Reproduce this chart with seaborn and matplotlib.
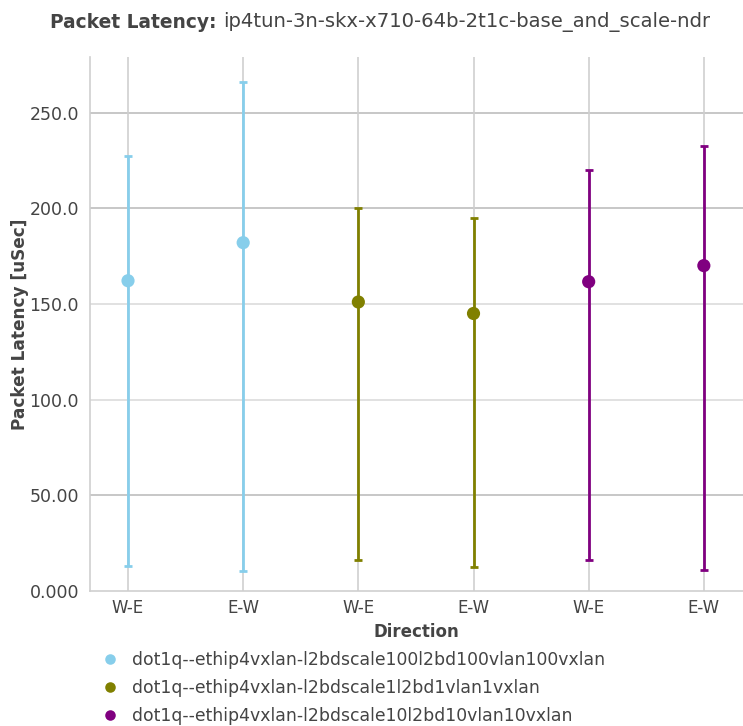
import numpy as np
import pandas as pd
import matplotlib
matplotlib.use("Agg")
import matplotlib.pyplot as plt
import seaborn as sns
from matplotlib.ticker import FuncFormatter

# Datos
tests = [
    "dot1q--ethip4vxlan-l2bdscale100l2bd100vlan100vxlan",
    "dot1q--ethip4vxlan-l2bdscale1l2bd1vlan1vxlan",
    "dot1q--ethip4vxlan-l2bdscale10l2bd10vlan10vxlan",
]
directions = ["W-E", "E-W", "W-E", "E-W", "W-E", "E-W"]
test_of_point = [0, 0, 1, 1, 2, 2]
lat_avg = [162.1, 182.0, 151.0, 145.0, 161.6, 170.0]
lat_max = [227.5, 265.7, 200.3, 195.1, 219.7, 232.7]
lat_min = [13.1, 10.5, 16.2, 12.6, 16.2, 11.0]
colors = ["#87CEEB", "#808000", "#800080"]

df = pd.DataFrame({
    "pos": np.arange(len(directions)),
    "Direction": directions,
    "test": [tests[i] for i in test_of_point],
    "avg": lat_avg,
    "max": lat_max,
    "min": lat_min,
})

sns.set_style("white")
plt.rcParams["font.family"] = ["DejaVu Sans"]
txt = "#444444"


def fmt_y(v, p):
    # 4 cifras significativas, como plotly
    if v >= 100:
        return f"{v:.1f}"
    if v >= 10:
        return f"{v:.2f}"
    return f"{v:.3f}"


fig = plt.figure(figsize=(7.43, 7.26), dpi=100)
ax = fig.add_axes([90 / 743, 1 - 591 / 726, 653 / 743, 534 / 726])

# lineas de grilla
for y in [50, 100, 150, 200, 250]:
    ax.axhline(y, color="#bdbdbd" if y in (50, 200, 250) else "#dcdcdc", lw=1.2, zorder=0)
for x in df["pos"]:
    ax.axvline(x, color="#cfcfcf", lw=1.2, zorder=0)

# barras de error (min / max)
for i, t in enumerate(tests):
    sub = df[df["test"] == t]
    ax.errorbar(sub["pos"], sub["avg"],
                yerr=[sub["avg"] - sub["min"], sub["max"] - sub["avg"]],
                fmt="none", ecolor=colors[i], elinewidth=2, capsize=3, capthick=2, zorder=2)

sns.scatterplot(data=df, x="pos", y="avg", hue="test", hue_order=tests,
                palette=colors, s=90, edgecolor="none", ax=ax, zorder=3)

ax.set_xlim(-0.33, 5.34)
ax.set_ylim(0, 279)
ax.set_xticks(df["pos"])
ax.set_xticklabels(directions)
ax.set_yticks([0, 50, 100, 150, 200, 250])
ax.yaxis.set_major_formatter(FuncFormatter(fmt_y))
ax.tick_params(axis="x", labelsize=12, colors=txt, length=0, pad=6)
ax.tick_params(axis="y", labelsize=12.5, labelcolor=txt, length=6, color="#cfcfcf", width=1, pad=2)

for s in ["top", "right"]:
    ax.spines[s].set_visible(False)
for s in ["left", "bottom"]:
    ax.spines[s].set_color("#cfcfcf")
    ax.spines[s].set_linewidth(1.2)

ax.set_xlabel("Direction", fontsize=12, fontweight="bold", color=txt, labelpad=4)
ax.set_ylabel("Packet Latency [uSec]", fontsize=12.2, fontweight="bold", color=txt)
ax.yaxis.set_label_coords(-0.094, 0.5)

# leyenda abajo
handles, labels = ax.get_legend_handles_labels()
ax.legend(handles, labels, loc="upper left", bbox_to_anchor=(-0.006, -0.10),
          frameon=False, fontsize=12.4, labelcolor=txt, handletextpad=0.25,
          labelspacing=0.58, borderaxespad=0, markerscale=0.8)

# titulo
fig.text(50 / 743, 1 - 22 / 726, "Packet Latency:", fontsize=13.4, fontweight="bold", color=txt, va="center")
fig.text(223 / 743, 1 - 22 / 726, "ip4tun-3n-skx-x710-64b-2t1c-base_and_scale-ndr", fontsize=14.1, color=txt, va="center")

fig.savefig("out.png", dpi=100)
